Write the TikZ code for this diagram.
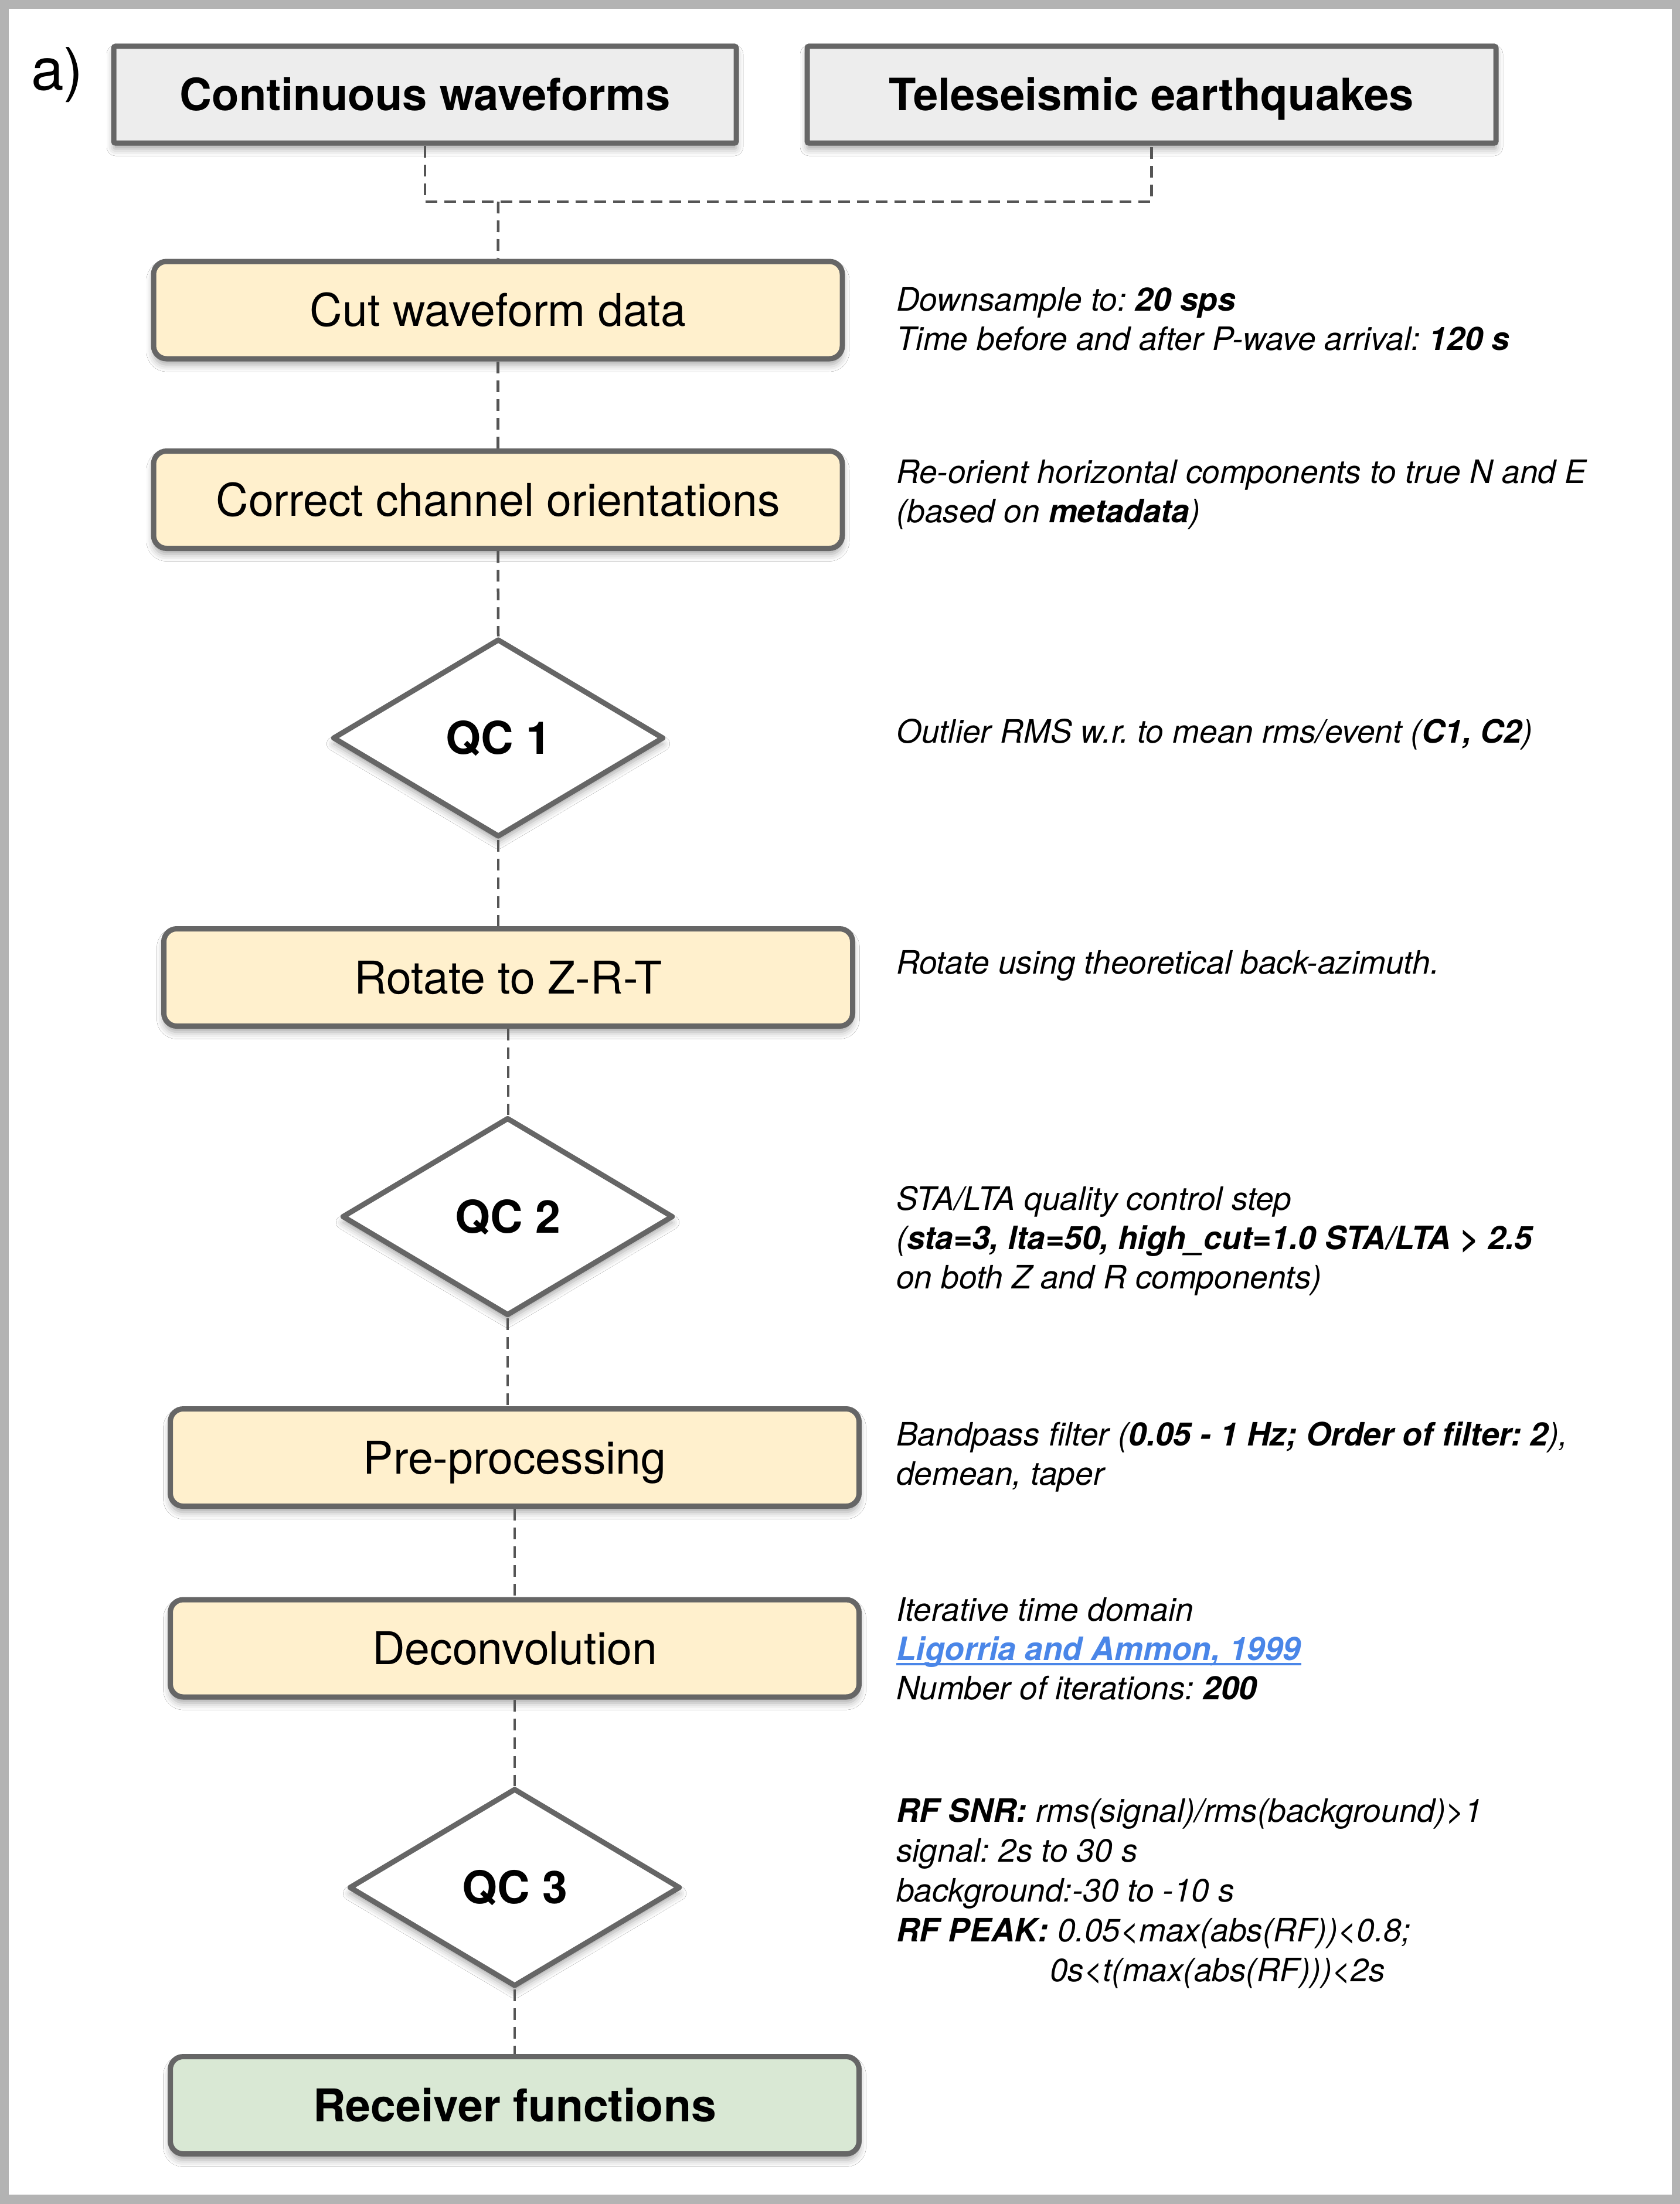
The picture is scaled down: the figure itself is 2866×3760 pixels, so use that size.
\documentclass[tikz,border=0pt]{standalone}
\usepackage{fontspec}
\setmainfont{TeX Gyre Heros}
\usetikzlibrary{shapes.geometric,shadows.blur}
\definecolor{framegray}{HTML}{B3B3B3}
\definecolor{edgec}{HTML}{666666}
\definecolor{srcfill}{HTML}{EDEDED}
\definecolor{procfill}{HTML}{FFF0CD}
\definecolor{endfill}{HTML}{D9E8D4}
\definecolor{dashc}{HTML}{555555}
\definecolor{linkc}{HTML}{4A86E8}
\frenchspacing
\begin{document}
\begin{tikzpicture}[x=1pt,y=-1pt,
  shad/.style={blur shadow={shadow xshift=0pt,shadow yshift=-10pt,shadow blur radius=12pt,shadow opacity=35}},
  srcbox/.style={shad,draw=edgec,line width=9pt,fill=srcfill,rounded corners=3pt,inner sep=0pt,
    minimum width=1062pt,minimum height=165pt,text height=55pt,text depth=0pt,
    font=\fontsize{76pt}{90pt}\selectfont\bfseries},
  procbox/.style={shad,draw=edgec,line width=9pt,fill=procfill,rounded corners=22pt,inner sep=0pt,
    minimum width=1175pt,minimum height=166pt,text height=55pt,text depth=0pt,
    font=\fontsize{77pt}{90pt}\selectfont},
  endbox/.style={procbox,fill=endfill,font=\fontsize{77pt}{90pt}\selectfont\bfseries},
  decision/.style={shad,diamond,draw=edgec,line width=9pt,line join=round,fill=white,inner sep=0pt,
    minimum width=565pt,minimum height=338pt,text height=55pt,text depth=0pt,
    font=\fontsize{77pt}{90pt}\selectfont\bfseries},
  conn/.style={draw=dashc,line width=4.5pt,dash pattern=on 20pt off 12pt},
  note/.style={anchor=base west,inner sep=0pt,font=\fontsize{55pt}{67pt}\selectfont\itshape}
]
\useasboundingbox (0,0) rectangle (2866,3760);
\fill[framegray] (0,0) rectangle (2866,3760);
\fill[white] (15,15) rectangle (2852,3744);

\node[anchor=base west,inner sep=0pt,font=\fontsize{100pt}{110pt}\selectfont] (lab) at (53,154) {a)};

% source boxes
\node[srcbox] (cont) at (725,161.5) {Continuous waveforms};
\node[srcbox,minimum width=1175pt] (tele) at (1964.5,161.5) {Teleseismic earthquakes};

% process chain
\node[procbox] (cut) at (849.5,529) {Cut waveform data};
\node[procbox] (corr) at (849.5,852.5) {Correct channel orientations};
\node[decision] (qc1) at (850,1259) {QC 1};
\node[procbox] (rot) at (867,1667.5) {Rotate to Z-R-T};
\node[decision] (qc2) at (866,2075.5) {QC 2};
\node[procbox] (pre) at (878,2486.5) {Pre-processing};
\node[procbox] (dec) at (878,2812) {Deconvolution};
\node[decision] (qc3) at (878,3220) {QC 3};
\node[endbox] (rf) at (878,3591.5) {Receiver functions};

% connectors
\coordinate (jn) at (850,344);
\draw[conn] (cont.south) |- (jn) -| (tele.south);
\draw[conn] (jn) -- (cut.north);
\draw[conn] (cut.south) -- (corr.north);
\draw[conn] (corr.south) -- (qc1.north);
\draw[conn] (qc1.south) -- (qc1.south |- rot.north);
\draw[conn] (rot.south) -- (rot.south |- qc2.north);
\draw[conn] (qc2.south) -- (qc2.south |- pre.north);
\draw[conn] (pre.south) -- (dec.north);
\draw[conn] (dec.south) -- (qc3.north);
\draw[conn] (qc3.south) -- (rf.north);

% notes
\node[note] (n1a) at (1529,530) {Downsample to: \bfseries 20 sps};
\node[note] (n1b) at (1529,597) {Time before and after P-wave arrival: \bfseries 120 s};
\node[note] (n2a) at (1529,824) {Re-orient horizontal components to true N and E};
\node[note] (n2b) at (1529,891) {(based on \textbf{metadata})};
\node[note] (n3a) at (1529,1267) {Outlier RMS w.r. to mean rms/event (\textbf{C1, C2})};
\node[note] (n4a) at (1529,1661) {Rotate using theoretical back-azimuth.};
\node[note] (n5a) at (1529,2064) {STA/LTA quality control step};
\node[note] (n5b) at (1529,2131) {(\textbf{sta=3, lta=50, high\_cut=1.0 STA/LTA > 2.5}};
\node[note] (n5c) at (1529,2198) {on both Z and R components)};
\node[note] (n6a) at (1529,2466) {Bandpass filter (\textbf{0.05 - 1 Hz; Order of filter: 2}),};
\node[note] (n6b) at (1529,2533) {demean, taper};
\node[note] (n7a) at (1529,2765) {Iterative time domain};
\node[note,text=linkc] (lk) at (1529,2832) {\bfseries Ligorria and Ammon, 1999};
\draw[linkc,line width=4.5pt] ([yshift=-7pt]lk.base west) -- ([yshift=-7pt]lk.base east);
\node[note] (n7c) at (1529,2899) {Number of iterations: \textbf{200}};
\node[note] (n8a) at (1529,3108) {\textbf{RF SNR:} rms(signal)/rms(background)>1};
\node[note] (n8b) at (1529,3176) {signal: 2s to 30 s};
\node[note] (n8c) at (1529,3244) {background:-30 to -10 s};
\node[note] (n8d) at (1529,3312) {\textbf{RF PEAK:} 0.05<max(abs(RF))<0.8;};
\node[note] (n8e) at (1791,3380) {0s<t(max(abs(RF)))<2s};
\end{tikzpicture}
\end{document}
